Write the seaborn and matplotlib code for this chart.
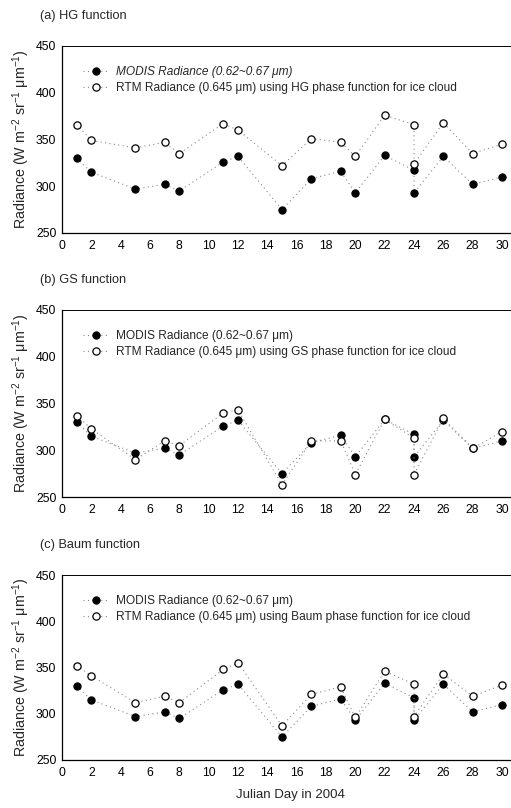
import matplotlib
matplotlib.use("Agg")
import matplotlib.pyplot as plt
import seaborn as sns
import pandas as pd

sns.set_theme(style="white")
plt.rcParams['font.family'] = ['Liberation Sans', 'DejaVu Sans']
plt.rcParams['mathtext.fontset'] = 'custom'
plt.rcParams['mathtext.rm'] = 'Liberation Sans'
plt.rcParams['mathtext.it'] = 'Liberation Sans:italic'

days = [1, 2, 5, 7, 8, 11, 12, 15, 17, 19, 20, 22, 24, 24, 26, 28, 30]
modis = [330, 315, 297, 302, 295, 326, 332, 275, 308, 316, 293, 333, 317, 293, 332, 302, 310]
rtm_hg = [366, 349, 341, 347, 335, 367, 360, 322, 351, 347, 332, 376, 366, 324, 368, 335, 345]
rtm_gs = [337, 323, 290, 310, 305, 340, 343, 263, 310, 310, 274, 333, 313, 274, 334, 302, 320]
rtm_baum = [352, 341, 312, 319, 312, 348, 355, 287, 321, 329, 296, 346, 332, 297, 343, 319, 331]

titles = ["(a) HG function", "(b) GS function", "(c) Baum function"]
names = ["HG", "GS", "Baum"]
rtms = [rtm_hg, rtm_gs, rtm_baum]
yticks = [250, 300, 350, 400, 450]
xticks = list(range(0, 31, 2))

W, H = 511, 808
fig = plt.figure(figsize=(W / 100, H / 100), dpi=100)

# (top pixel of 450, bottom pixel of 250)
pix = [(46, 233), (310, 497), (575, 760)]
title_y = [16, 280, 545]
left_px = 62
right_px = 62 + 31 * (440 / 30)

dot = (0, (1, 3))
lc = '#8a8a8a'

for i in range(3):
    top, bot = pix[i]
    ax = fig.add_axes([left_px / W, 1 - bot / H, (right_px - left_px) / W, (bot - top) / H])
    df = pd.DataFrame({"day": days, "modis": modis, "rtm": rtms[i]})
    sns.lineplot(data=df, x="day", y="modis", sort=False, estimator=None, ax=ax,
                 color=lc, linestyle=dot, lw=0.8, marker='o', markersize=5.2,
                 markerfacecolor='black', markeredgecolor='black', markeredgewidth=0.8)
    sns.lineplot(data=df, x="day", y="rtm", sort=False, estimator=None, ax=ax,
                 color=lc, linestyle=dot, lw=0.8, marker='o', markersize=5.2,
                 markerfacecolor='white', markeredgecolor='black', markeredgewidth=0.9)
    ax.set_xlim(0, 31)
    ax.set_ylim(250, 450)
    ax.set_xticks(xticks)
    ax.set_yticks(yticks)
    ax.tick_params(axis='both', labelsize=8.8, direction='in', length=3, width=0.8,
                   colors='black')
    ax.tick_params(axis='x', pad=5)
    ax.tick_params(axis='y', pad=4)
    for s in ['left', 'bottom', 'top']:
        ax.spines[s].set_color('black')
        ax.spines[s].set_linewidth(0.9)
    ax.spines['top'].set_linewidth(0.7)
    ax.spines['right'].set_visible(False)
    ax.set_xlabel("")
    ax.set_ylabel("Radiance (W m$^{-2}$ sr$^{-1}$ \u03bcm$^{-1}$)", fontsize=10.3, labelpad=3)
    lines = ax.get_lines()
    lab1 = "MODIS Radiance (0.62~0.67 \u03bcm)"
    lab2 = f"RTM Radiance (0.645 \u03bcm) using {names[i]} phase function for ice cloud"
    leg = ax.legend(lines[:2], [lab1, lab2], loc='upper left', bbox_to_anchor=(0.03, 0.93),
                    frameon=False, fontsize=8.6, handlelength=2.2, handletextpad=0.6,
                    labelspacing=0.3, borderaxespad=0.2)
    if i == 0:
        leg.get_texts()[0].set_fontstyle('italic')
    fig.text(40 / W, 1 - title_y[i] / H, titles[i], fontsize=9.2, va='center', ha='left')

fig.text(290 / W, 1 - 795 / H, "Julian Day in 2004", fontsize=9.5, ha='center', va='center')

fig.savefig("out.png", dpi=100)
